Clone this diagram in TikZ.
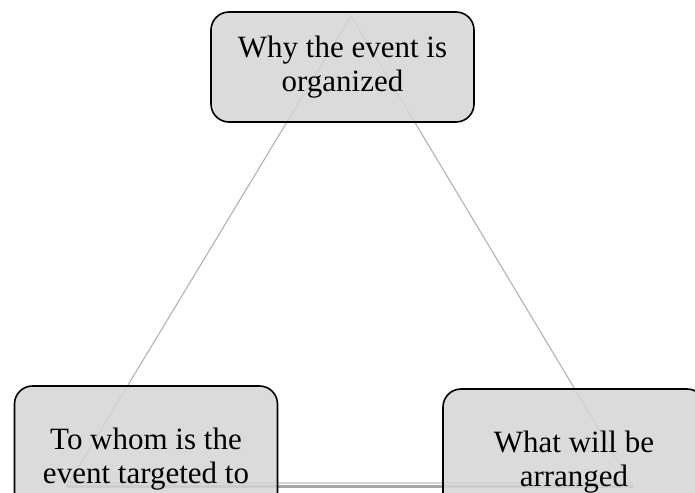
\documentclass[tikz,border=0pt]{standalone}
\usepackage{fontspec}
\setmainfont{Liberation Serif}
\usetikzlibrary{positioning}

\tikzset{
    topicbox/.style={draw, line width=1.6pt, rounded corners=18pt, fill=gray!33, fill opacity=0.85, text opacity=1,
        minimum width=263pt, align=center, font=\fontsize{31}{34}\selectfont},
    sideline/.style={draw=gray!65, line width=1pt}
}

\begin{document}
\begin{tikzpicture}[x=1pt, y=-1pt]
        \useasboundingbox (0,0) rectangle (695,492);
        \clip (0,0) rectangle (695,492);

        % triangle behind the boxes
        \coordinate (apex) at (351,16);
        \coordinate (left) at (67,486);
        \coordinate (right) at (633,486);
        \draw[sideline] (left) -- (apex) -- (right);
        \draw[gray!70, line width=3pt] (left) -- (right);
        \draw[gray!35, line width=1.5pt] ([yshift=2.8pt]left) -- ([yshift=2.8pt]right);

        \node[topicbox, minimum height=110pt] (why) at (342.5,67) {Why the event is\\organized};
        \node[topicbox, minimum height=146pt] (whom) at (146,459) {To whom is the\\event targeted to};
        \node[topicbox, minimum height=146pt, minimum width=262pt] (what) at (574,462) {What will be\\arranged};
    \end{tikzpicture}
\end{document}
